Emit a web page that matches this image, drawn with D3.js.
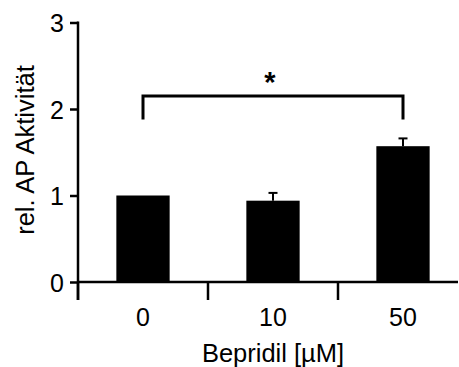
<!DOCTYPE html>
<html><head><meta charset="utf-8">
<script src="https://cdn.jsdelivr.net/npm/d3@7"></script>
<style>
html,body{margin:0;padding:0;background:#fff;}
text{font-family:"Liberation Sans",Arial,sans-serif;fill:#000;}
</style></head>
<body>
<svg id="chart" width="459" height="367"></svg>
<script>
const categories = ["0", "10", "50"];
const values = [1.0, 0.94, 1.57];
const errors = [0, 0.09, 0.09];
const yTicks = [0, 1, 2, 3];
const xTitle = "Bepridil [µM]";
const yTitle = "rel. AP Aktivität";
const sigPair = ["0", "50"];
const sigLabel = "*";

(function () {
const svg = d3.select("#chart");
const mLeft = 78, mRight = 468, mTop = 22.5, mBottom = 282;

const y = d3.scaleLinear().domain([0, 3]).range([mBottom, mTop]);
const x = d3.scaleBand().domain(categories).range([mLeft, mRight]).paddingInner(0.59).paddingOuter(0.295);
const xb = d3.scaleBand().domain(categories).range([mLeft, mRight]).padding(0);

const sw = 2.5;

// bars
svg.append("g").selectAll("rect").data(categories).join("rect")
  .attr("x", d => x(d))
  .attr("width", x.bandwidth())
  .attr("y", (d, i) => y(values[i]))
  .attr("height", (d, i) => y(0) - y(values[i]))
  .attr("fill", "#000");

// error bars
const eg = svg.append("g").attr("stroke", "#000").attr("stroke-width", 2);
categories.forEach((c, i) => {
  if (errors[i] <= 0) return;
  const cx = x(c) + x.bandwidth() / 2;
  eg.append("line").attr("x1", cx).attr("x2", cx).attr("y1", y(values[i])).attr("y2", y(values[i] + errors[i]));
  eg.append("line").attr("x1", cx - 4.5).attr("x2", cx + 4.5).attr("y1", y(values[i] + errors[i])).attr("y2", y(values[i] + errors[i]));
});

// y axis
const yAxis = d3.axisLeft(y).tickValues(yTicks).tickSize(8).tickPadding(6).tickFormat(d3.format("d"));
const gy = svg.append("g").attr("transform", `translate(${mLeft},0)`).call(yAxis);
gy.select(".domain").remove();
gy.selectAll(".tick line").attr("stroke", "#000").attr("stroke-width", sw);
gy.selectAll(".tick text").attr("font-size", 25).attr("font-family", "Liberation Sans, Arial, sans-serif").attr("fill", "#000").attr("dy", "0.36em");
svg.append("line").attr("x1", mLeft).attr("x2", mLeft).attr("y1", y(3) - 1).attr("y2", mBottom + 18)
  .attr("stroke", "#000").attr("stroke-width", sw);

// x axis
svg.append("line").attr("x1", mLeft).attr("x2", 458).attr("y1", mBottom).attr("y2", mBottom)
  .attr("stroke", "#000").attr("stroke-width", sw);
svg.append("g").selectAll("line").data(categories).join("line")
  .attr("x1", d => xb(d)).attr("x2", d => xb(d))
  .attr("y1", mBottom).attr("y2", mBottom + 18)
  .attr("stroke", "#000").attr("stroke-width", sw);
svg.append("g").selectAll("text").data(categories).join("text")
  .attr("x", d => x(d) + x.bandwidth() / 2)
  .attr("y", 326)
  .attr("text-anchor", "middle")
  .attr("font-size", 25)
  .text(d => d);

// titles
svg.append("text").attr("x", 273).attr("y", 362).attr("text-anchor", "middle").attr("font-size", 25.5).text(xTitle);
svg.append("text").attr("transform", "translate(34,150) rotate(-90)").attr("text-anchor", "middle").attr("font-size", 25.5).text(yTitle);

// significance bracket
const bx1 = x(sigPair[0]) + x.bandwidth() / 2;
const bx2 = x(sigPair[1]) + x.bandwidth() / 2;
const by = y(2.15), byl = y(1.88);
svg.append("path")
  .attr("d", `M${bx1},${byl}V${by}H${bx2}V${byl}`)
  .attr("fill", "none").attr("stroke", "#000").attr("stroke-width", 3);
svg.append("text").attr("x", (bx1 + bx2) / 2 - 3).attr("y", by - 4)
  .attr("text-anchor", "middle").attr("font-size", 29).attr("font-weight", "bold").text(sigLabel);
})();
</script>
</body></html>
